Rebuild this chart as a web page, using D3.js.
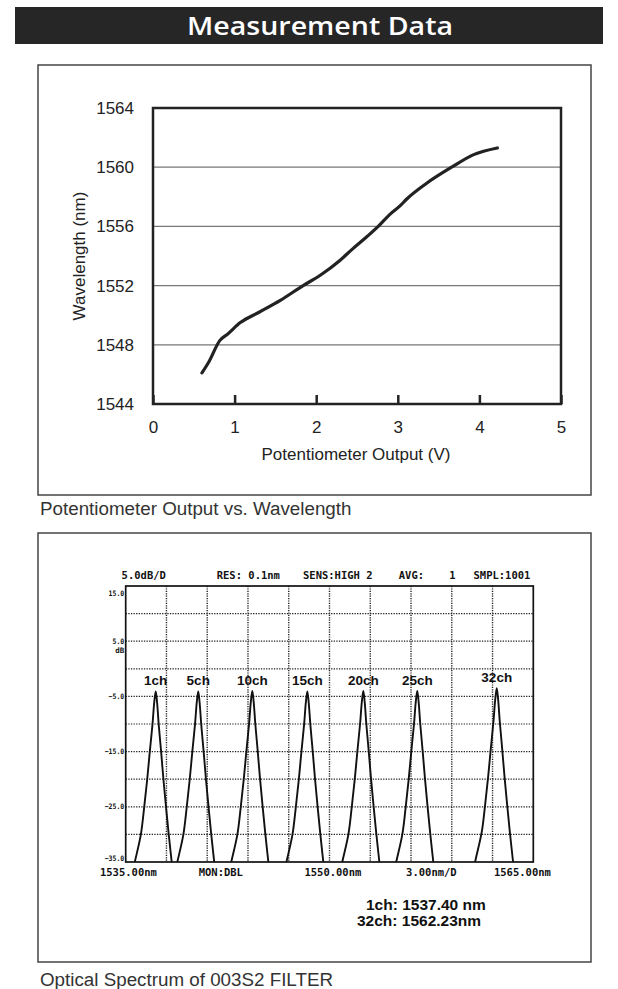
<!DOCTYPE html>
<html>
<head>
<meta charset="utf-8">
<script src="https://cdn.jsdelivr.net/npm/d3@7"></script>
<style>
    body { margin: 0; background: #fff; }
    svg { display: block; }
</style>
</head>
<body>
<svg id="chart" width="618" height="989"></svg>
<script>
// ---------------- data: potentiometer output vs wavelength
const potVolts = [0.60, 0.68, 0.82, 0.92, 1.07, 1.30, 1.56, 1.84, 2.05, 2.29, 2.45, 2.62, 2.76, 2.90, 3.03, 3.11, 3.35, 3.66, 3.93, 4.22];
const wavelengthNm = [1546.1, 1546.8, 1548.3, 1548.75, 1549.5, 1550.2, 1551.0, 1552.0, 1552.7, 1553.7, 1554.5, 1555.3, 1556.0, 1556.8, 1557.4, 1557.85, 1558.9, 1560.0, 1560.85, 1561.3];
const voltTicks = [0, 1, 2, 3, 4, 5];
const wavelengthTicks = [1544, 1548, 1552, 1556, 1560, 1564];

// ---------------- data: optical spectrum
const channelNames = ['1ch', '5ch', '10ch', '15ch', '20ch', '25ch', '32ch'];
const peakNm = [1537.21, 1540.34, 1544.32, 1548.37, 1552.49, 1556.46, 1562.31];
const peakDb = [-4.1, -4.1, -4.0, -4.1, -4.0, -4.0, -3.5];
// peak shape: drop below peak (dB) vs distance from centre (nm)
const profileDropDb = [0, 2, 6, 11, 16, 21, 26, 31, 36];
const profileRightNm = [0, 0.10, 0.22, 0.40, 0.57, 0.76, 0.96, 1.18, 1.40];
const profileLeftNm = [0, 0.11, 0.24, 0.44, 0.63, 0.85, 1.10, 1.55, 2.0];
const dbTicks = [15, 5, -5, -15, -25, -35];
const nmGrid = [1538, 1541, 1544, 1547, 1550, 1553, 1556, 1559, 1562];
const dbGrid = [10, 5, 0, -5, -10, -15, -20, -25, -30];
const headerLabels = ['5.0dB/D', 'RES: 0.1nm', 'SENS:HIGH 2', 'AVG:    1', 'SMPL:1001'];
const headerNm = [1534.7, 1541.7, 1548.05, 1555.1, 1560.6];
const footerLabels = ['1535.00nm', 'MON:DBL', '1550.00nm', '3.00nm/D', '1565.00nm'];
const footerNm = [1535.2, 1542.0, 1550.25, 1557.5, 1564.2];
const resultLines = ['1ch: 1537.40 nm', '32ch: 1562.23nm'];

const svg = d3.select('#chart');
const sans = '"Liberation Sans", Arial, sans-serif';
const mono = '"DejaVu Sans Mono", monospace';

//--------------------------------------------------HEADER
svg.append('rect')
    .attr('x', 15).attr('y', 7)
    .attr('width', 588).attr('height', 37)
    .attr('fill', '#262626');

svg.append('text')
    .attr('x', 320).attr('y', 35)
    .attr('text-anchor', 'middle')
    .attr('textLength', 266)
    .attr('lengthAdjust', 'spacingAndGlyphs')
    .style('font-family', '"Open Sans", sans-serif')
    .style('font-weight', 600)
    .style('font-size', '26px')
    .style('fill', '#fff')
    .text('Measurement Data');

// frames
[[65, 430], [533, 429]].forEach(([y, h]) => {
    svg.append('rect')
        .attr('x', 38).attr('y', y)
        .attr('width', 553).attr('height', h)
        .attr('fill', 'none')
        .attr('stroke', '#444')
        .attr('stroke-width', 1.5);
});

//--------------------------------------------------TOP CHART
const x1 = d3.scaleLinear().domain([0, 5]).range([153, 561]);
const y1 = d3.scaleLinear().domain([1544, 1564]).range([404, 108]);

const potChart = svg.append('g').attr('class', 'potChart');

potChart.selectAll('.grid')
    .data(wavelengthTicks.slice(1, -1))
    .enter().append('line')
    .attr('class', 'grid')
    .attr('x1', x1(0)).attr('x2', x1(5))
    .attr('y1', d => y1(d)).attr('y2', d => y1(d))
    .attr('stroke', '#777')
    .attr('stroke-width', 1.2);

const xAxis1 = potChart.append('g')
    .attr('transform', `translate(0, ${y1(1544)})`)
    .call(d3.axisBottom(x1).tickValues(voltTicks).tickFormat(d3.format('d')).tickSize(-9).tickPadding(17));
xAxis1.select('.domain').remove();
xAxis1.selectAll('line').attr('stroke', '#222').attr('stroke-width', 2.5);

const yAxis1 = potChart.append('g')
    .attr('transform', `translate(${x1(0)}, 0)`)
    .call(d3.axisLeft(y1).tickValues(wavelengthTicks).tickFormat(d3.format('d')).tickSize(0).tickPadding(19));
yAxis1.select('.domain').remove();

potChart.selectAll('.tick text')
    .style('font-family', sans)
    .style('font-size', '17px')
    .style('fill', '#222');

potChart.append('rect')
    .attr('x', x1(0)).attr('y', y1(1564))
    .attr('width', x1(5) - x1(0)).attr('height', y1(1544) - y1(1564))
    .attr('fill', 'none')
    .attr('stroke', '#222')
    .attr('stroke-width', 2.5);

potChart.append('path')
    .datum(potVolts.map((v, i) => [v, wavelengthNm[i]]))
    .attr('d', d3.line().x(d => x1(d[0])).y(d => y1(d[1])).curve(d3.curveMonotoneX))
    .attr('fill', 'none')
    .attr('stroke', '#222')
    .attr('stroke-width', 3.2)
    .attr('stroke-linecap', 'round');

potChart.append('text')
    .attr('x', 356).attr('y', 459.5)
    .attr('text-anchor', 'middle')
    .style('font-family', sans).style('font-size', '17px').style('fill', '#222')
    .text('Potentiometer Output (V)');

potChart.append('text')
    .attr('transform', 'translate(85, 256) rotate(-90)')
    .attr('text-anchor', 'middle')
    .style('font-family', sans).style('font-size', '17px').style('fill', '#222')
    .text('Wavelength (nm)');

svg.append('text')
    .attr('x', 40).attr('y', 514.5)
    .style('font-family', sans).style('font-size', '18.8px').style('fill', '#333')
    .text('Potentiometer Output vs. Wavelength');

//--------------------------------------------------BOTTOM CHART
const x2 = d3.scaleLinear().domain([1535, 1565]).range([125.7, 533.3]);
const y2 = d3.scaleLinear().domain([-35, 15]).range([862, 586]);

const osa = svg.append('g').attr('class', 'osaChart');

osa.append('clipPath').attr('id', 'osaClip')
    .append('rect')
    .attr('x', x2(1535)).attr('y', y2(15))
    .attr('width', x2(1565) - x2(1535)).attr('height', y2(-35) - y2(15));

osa.selectAll('.vgrid')
    .data(nmGrid)
    .enter().append('line')
    .attr('class', 'vgrid')
    .attr('x1', d => x2(d)).attr('x2', d => x2(d))
    .attr('y1', y2(15)).attr('y2', y2(-35))
    .attr('stroke', '#222').attr('stroke-width', 1.4)
    .attr('stroke-dasharray', '1.2,1.2');

osa.selectAll('.hgrid')
    .data(dbGrid)
    .enter().append('line')
    .attr('class', 'hgrid')
    .attr('x1', x2(1535)).attr('x2', x2(1565))
    .attr('y1', d => y2(d)).attr('y2', d => y2(d))
    .attr('stroke', '#222').attr('stroke-width', 1.2)
    .attr('stroke-dasharray', '1.3,1.3');

const peakLine = d3.line()
    .x(d => x2(d[0]))
    .y(d => y2(d[1]))
    .curve(d3.curveCatmullRom.alpha(0.5));

const peakPoints = (i) => {
    const left = profileLeftNm.map((o, j) => [peakNm[i] - o, peakDb[i] - profileDropDb[j]]).slice(1).reverse();
    const right = profileRightNm.map((o, j) => [peakNm[i] + o, peakDb[i] - profileDropDb[j]]);
    return left.concat(right);
};

osa.append('g')
    .attr('clip-path', 'url(#osaClip)')
    .selectAll('path')
    .data(channelNames.map((c, i) => peakPoints(i)))
    .enter().append('path')
    .attr('d', peakLine)
    .attr('fill', 'none')
    .attr('stroke', '#111')
    .attr('stroke-width', 1.9);

osa.append('rect')
    .attr('x', x2(1535)).attr('y', y2(15))
    .attr('width', x2(1565) - x2(1535)).attr('height', y2(-35) - y2(15))
    .attr('fill', 'none')
    .attr('stroke', '#111')
    .attr('stroke-width', 1.7);

osa.selectAll('.chLabel')
    .data(channelNames)
    .enter().append('text')
    .attr('class', 'chLabel')
    .attr('x', (d, i) => x2(peakNm[i]))
    .attr('y', (d, i) => y2(peakDb[i]) - 6)
    .attr('text-anchor', 'middle')
    .style('font-family', sans).style('font-weight', 'bold').style('font-size', '13.5px').style('fill', '#111')
    .text(d => d);

// instrument texts
const monoText = (sel) => sel
    .style('font-family', mono).style('font-weight', 'bold').style('font-size', '10.5px').style('fill', '#111');

osa.selectAll('.hdr')
    .data(headerLabels)
    .enter().append('text')
    .attr('class', 'hdr')
    .attr('x', (d, i) => x2(headerNm[i]))
    .attr('y', 579)
    .style('white-space', 'pre')
    .call(monoText)
    .text(d => d);

osa.selectAll('.ftr')
    .data(footerLabels)
    .enter().append('text')
    .attr('class', 'ftr')
    .attr('x', (d, i) => x2(footerNm[i]))
    .attr('y', 876)
    .attr('text-anchor', 'middle')
    .call(monoText)
    .text(d => d);

const yTop = y2(15), yBottom = y2(-35);
osa.selectAll('.dbLabel')
    .data(dbTicks)
    .enter().append('text')
    .attr('class', 'dbLabel')
    .attr('x', x2(1535) - 1.5)
    .attr('y', d => Math.min(Math.max(y2(d) + 2.5, yTop + 10), yBottom - 1))
    .attr('text-anchor', 'end')
    .attr('textLength', d => d3.format('.1f')(d).length * 3.9)
    .attr('lengthAdjust', 'spacingAndGlyphs')
    .call(monoText)
    .style('font-size', '7.5px')
    .text(d => d3.format('.1f')(d));

osa.append('text')
    .attr('x', x2(1535) - 1.5).attr('y', y2(5) + 12)
    .attr('text-anchor', 'end')
    .attr('textLength', 9)
    .attr('lengthAdjust', 'spacingAndGlyphs')
    .call(monoText)
    .style('font-size', '7.5px')
    .text('dB');

osa.selectAll('.result')
    .data(resultLines)
    .enter().append('text')
    .attr('class', 'result')
    .attr('x', (d, i) => i === 0 ? 366 : 357)
    .attr('y', (d, i) => 909.5 + i * 16)
    .style('font-family', sans).style('font-weight', 'bold').style('font-size', '15.5px').style('fill', '#111')
    .text(d => d);

svg.append('text')
    .attr('x', 40).attr('y', 985.5)
    .style('font-family', sans).style('font-size', '18.8px').style('fill', '#333')
    .text('Optical Spectrum of 003S2 FILTER');
</script>
</body>
</html>
